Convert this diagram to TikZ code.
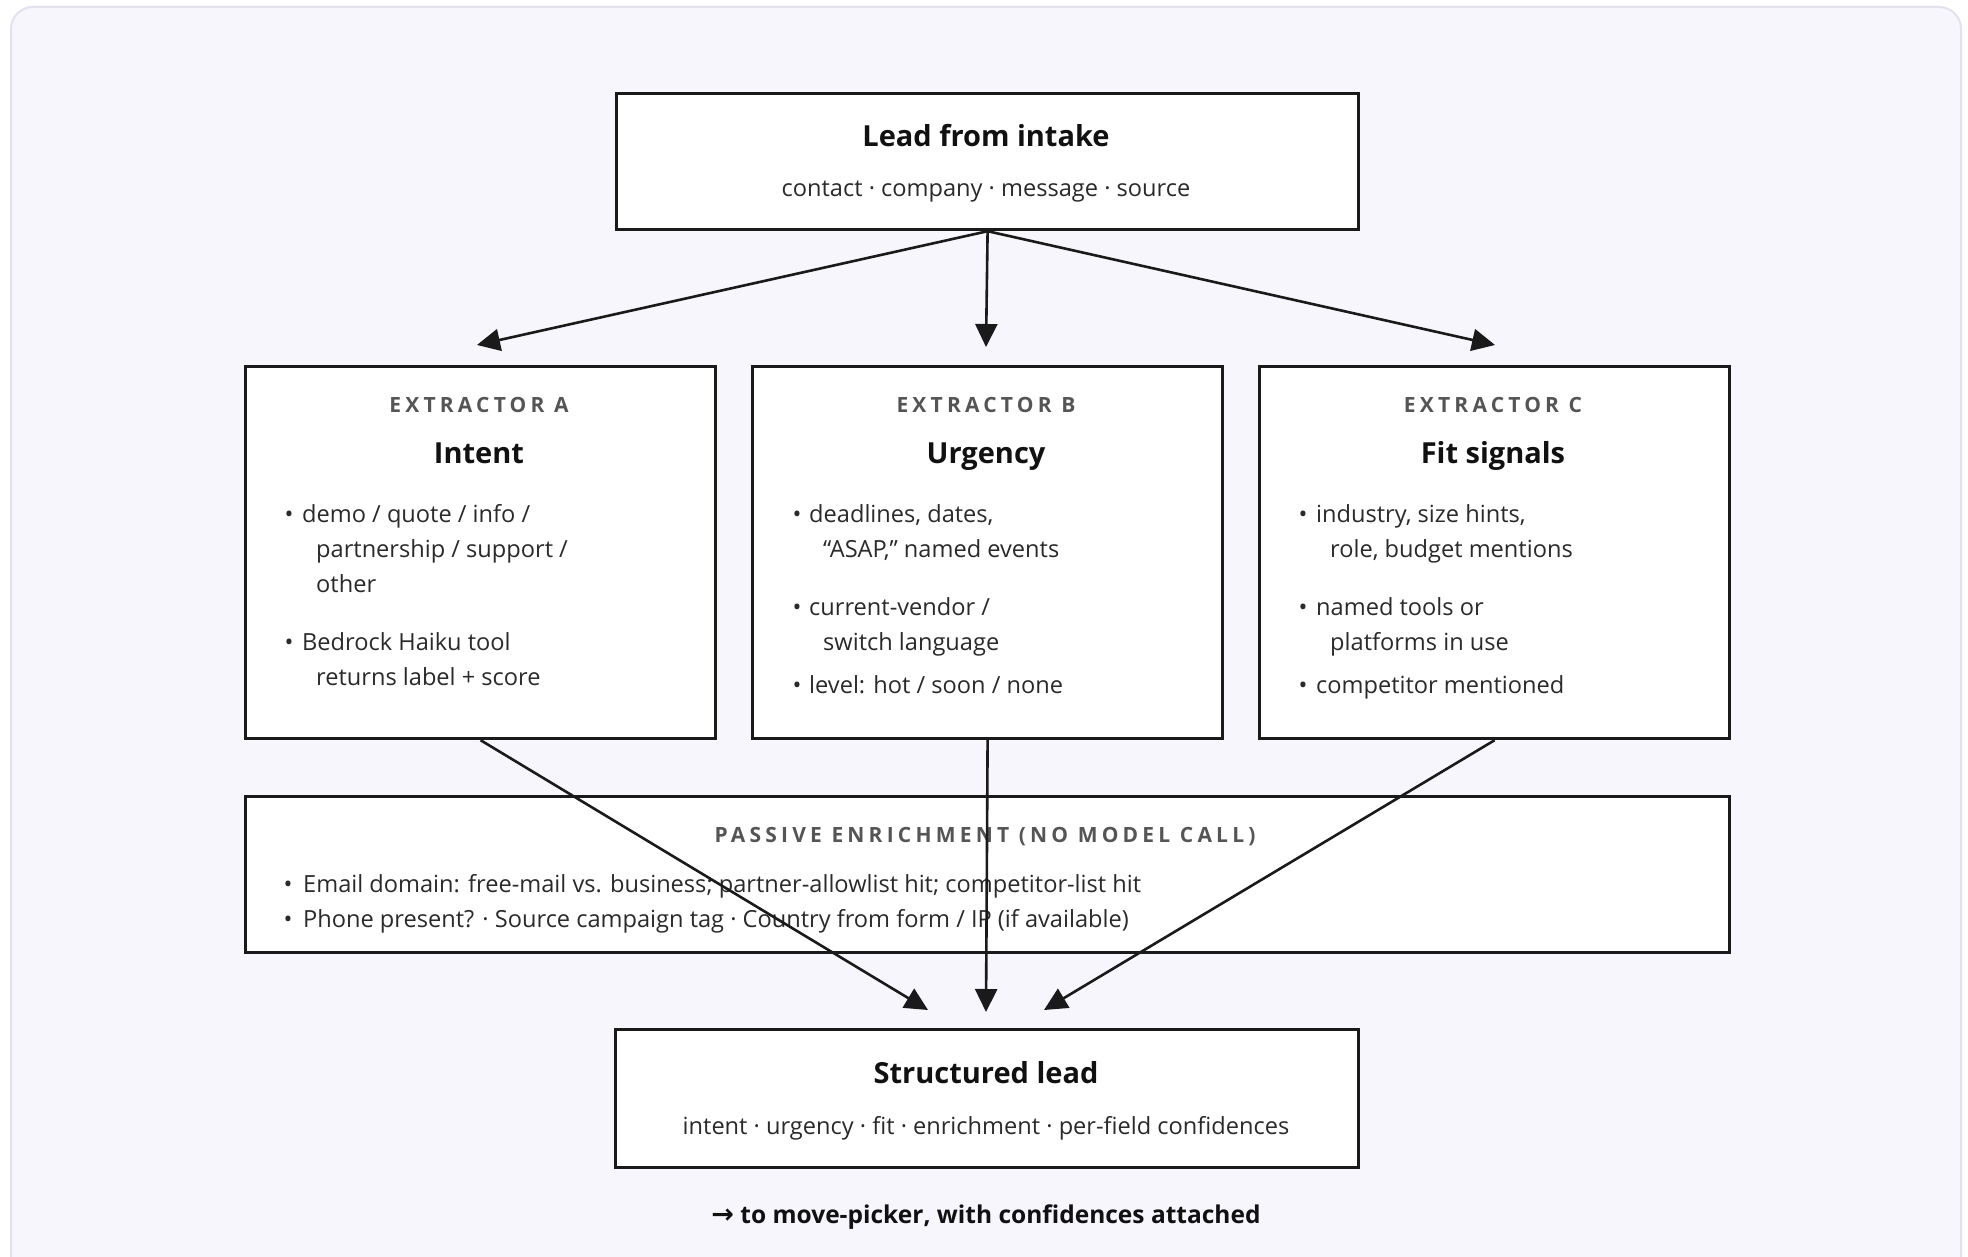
\documentclass[tikz,border=0pt]{standalone}
\usepackage{fontspec}
\setmainfont{Open Sans}
\newfontfamily\trackfont[LetterSpace=20]{Open Sans}
\newfontfamily\symfont{DejaVu Sans}
\usetikzlibrary{arrows.meta}
\definecolor{bgfill}{HTML}{F7F6FD}
\definecolor{bgline}{HTML}{E3E1EE}
\definecolor{boxline}{HTML}{1A1A1A}
\definecolor{titlecol}{HTML}{111111}
\definecolor{bodycol}{HTML}{2A2A2A}
\definecolor{headcol}{HTML}{555555}
\begin{document}
\begin{tikzpicture}[x=1pt,y=-1pt,
  box/.style={draw=boxline,line width=3.2pt,fill=white,inner sep=0pt,anchor=north west},
  arr/.style={draw=boxline,line width=2.6pt,-{Triangle[length=23pt,width=22pt]}},
  txt/.style={inner sep=0pt,anchor=base west,text=bodycol,font=\fontsize{23.6}{28}\selectfont},
  ctxt/.style={txt,anchor=base},
  bul/.style={txt,anchor=base},
  ttl/.style={inner sep=0pt,anchor=base,text=titlecol,font=\fontsize{29}{34}\selectfont\bfseries},
  hdr/.style={inner sep=0pt,anchor=base,text=headcol,font=\trackfont\bfseries\fontsize{21}{25}\selectfont},
]
\useasboundingbox (0,0) rectangle (1968,1257);
\clip (0,0) rectangle (1968,1257);
\fill[white] (0,0) rectangle (1968,1257);
\draw[fill=bgfill,draw=bgline,line width=2pt,rounded corners=22pt] (11,7) rectangle (1961,1330);

% boxes
\node[box,minimum width=742pt,minimum height=136pt] (lead) at (615,92) {};
\node[box,minimum width=470pt,minimum height=372pt] (exA) at (244,365) {};
\node[box,minimum width=470pt,minimum height=372pt] (exB) at (751,365) {};
\node[box,minimum width=470pt,minimum height=372pt] (exC) at (1258,365) {};
\node[box,minimum width=1484pt,minimum height=156pt] (pass) at (244,795) {};
\node[box,minimum width=743pt,minimum height=138pt] (out) at (614,1028) {};

% top box text
\node[ttl] (leadT) at (986,147) {Lead from intake};
\node[ctxt] (leadS) at (986,197) {contact · company · message · source};

% extractor A
\node[hdr] (hA) at (479,412) {EXTRACTOR A};
\node[ttl] (tA1) at (479,463) {Intent};
\node[bul] (bA1) at (289,522) {•};
\node[txt] (lA1) at (302,522) {demo / quote / info /};
\node[txt] (lA2) at (316,557) {partnership / support /};
\node[txt] (lA3) at (316,592) {other};
\node[bul] (bA2) at (289,650) {•};
\node[txt] (lA4) at (302,650) {Bedrock Haiku tool};
\node[txt] (lA5) at (316,685) {returns label + score};

% extractor B
\node[hdr] (hB) at (986,412) {EXTRACTOR B};
\node[ttl] (tB1) at (986,463) {Urgency};
\node[bul] (bB1) at (797,522) {•};
\node[txt] (lB1) at (809,522) {deadlines, dates,};
\node[txt] (lB2) at (823,557) {“ASAP,” named events};
\node[bul] (bB2) at (797,615) {•};
\node[txt] (lB3) at (809,615) {current-vendor /};
\node[txt] (lB4) at (823,650) {switch language};
\node[bul] (bB3) at (797,693) {•};
\node[txt] (lB5) at (809,693) {level: hot / soon / none};

% extractor C
\node[hdr] (hC) at (1493,412) {EXTRACTOR C};
\node[ttl] (tC1) at (1493,463) {Fit signals};
\node[bul] (bC1) at (1303,522) {•};
\node[txt] (lC1) at (1316,522) {industry, size hints,};
\node[txt] (lC2) at (1330,557) {role, budget mentions};
\node[bul] (bC2) at (1303,615) {•};
\node[txt] (lC3) at (1316,615) {named tools or};
\node[txt] (lC4) at (1330,650) {platforms in use};
\node[bul] (bC3) at (1303,693) {•};
\node[txt] (lC5) at (1316,693) {competitor mentioned};

% passive enrichment
\node[hdr] (hP) at (985,842) {PASSIVE ENRICHMENT (NO MODEL CALL)};
\node[bul] (bP1) at (288,892) {•};
\node[txt] (lP1) at (303,892) {Email domain: free-mail vs. business; partner-allowlist hit; competitor-list hit};
\node[bul] (bP2) at (288,927) {•};
\node[txt] (lP2) at (303,927) {Phone present? · Source campaign tag · Country from form / IP (if available)};

% structured lead
\node[ttl] (outT) at (986,1083) {Structured lead};
\node[ctxt] (outS) at (986,1134) {intent · urgency · fit · enrichment · per-field confidences};

% footer
\node[ctxt,text=titlecol,font=\fontsize{24.5}{29}\selectfont\bfseries] (foot) at (986,1223) {{\symfont\fontsize{27}{29}\selectfont →} to move-picker, with confidences attached};

% arrows
\coordinate (tipA) at (477,345);
\coordinate (tipB) at (986,347);
\coordinate (tipC) at (1495,345);
\coordinate (dA) at (928,1010);
\coordinate (dB) at (986,1012);
\coordinate (dC) at (1044,1010);
\draw[arr] (lead.south) -- (tipA);
\draw[arr] (lead.south) -- (tipB);
\draw[arr] (lead.south) -- (tipC);
\draw[arr] (exA.south) -- (dA);
\draw[arr] (exB.south) -- (dB);
\draw[arr] (exC.south) -- (dC);
\end{tikzpicture}
\end{document}
